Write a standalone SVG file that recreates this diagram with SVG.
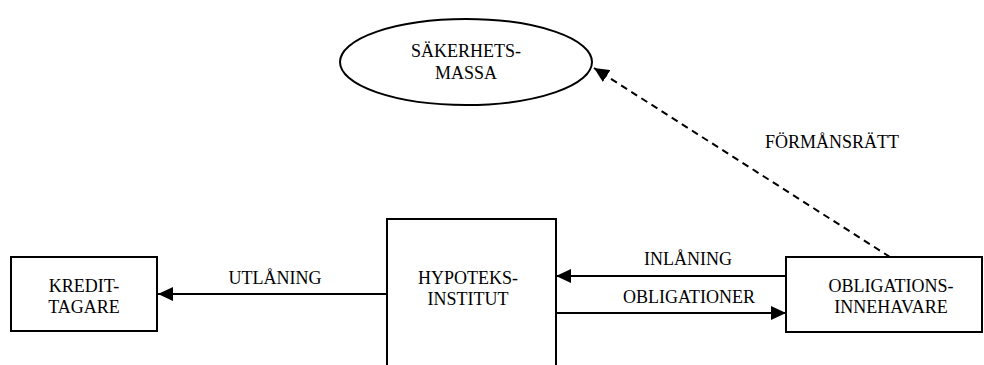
<svg xmlns="http://www.w3.org/2000/svg" width="984" height="365" viewBox="0 0 984 365">
<style>
.s{fill:#fff;stroke:#000;stroke-width:2}
.t{font-family:'Liberation Serif','Times New Roman',serif;font-size:18px;fill:#000;text-anchor:middle}
.c{stroke:#000;stroke-width:2;fill:none}
</style>
<defs>
<marker id="ah" markerWidth="16" markerHeight="14" refX="15" refY="7" orient="auto" markerUnits="userSpaceOnUse">
<path d="M0,0 L15,7 L0,14 Z" fill="#000"/>
</marker>
</defs>
<rect width="984" height="365" fill="#fff"/>
<g id="connectors">
<line class="c" x1="387" y1="294" x2="158" y2="294" marker-end="url(#ah)"/>
<line class="c" x1="786" y1="276" x2="556" y2="276" marker-end="url(#ah)"/>
<line class="c" x1="556" y1="313" x2="786" y2="313" marker-end="url(#ah)"/>
<line class="c" x1="890" y1="257" x2="594" y2="68" stroke-dasharray="7,5" marker-end="url(#ah)"/>
<text class="t" x="275" y="284">UTLÅNING</text>
<text class="t" x="688" y="265">INLÅNING</text>
<text class="t" x="689" y="303">OBLIGATIONER</text>
<text class="t" x="832" y="148">FÖRMÅNSRÄTT</text>
</g>
<g id="sakerhetsmassa">
<ellipse class="s" cx="466" cy="62" rx="126" ry="43"/>
<text class="t" x="466" y="57">SÄKERHETS-</text>
<text class="t" x="466" y="79">MASSA</text>
</g>
<g id="kredittagare">
<rect class="s" x="11" y="257" width="146" height="74"/>
<text class="t" x="84" y="292">KREDIT-</text>
<text class="t" x="84" y="313">TAGARE</text>
</g>
<g id="hypoteksinstitut">
<rect class="s" x="387" y="219" width="169" height="160"/>
<text class="t" x="468" y="284">HYPOTEKS-</text>
<text class="t" x="468" y="305">INSTITUT</text>
</g>
<g id="obligationsinnehavare">
<rect class="s" x="786" y="257" width="196" height="75"/>
<text class="t" x="891" y="292">OBLIGATIONS-</text>
<text class="t" x="891" y="313">INNEHAVARE</text>
</g>
</svg>
